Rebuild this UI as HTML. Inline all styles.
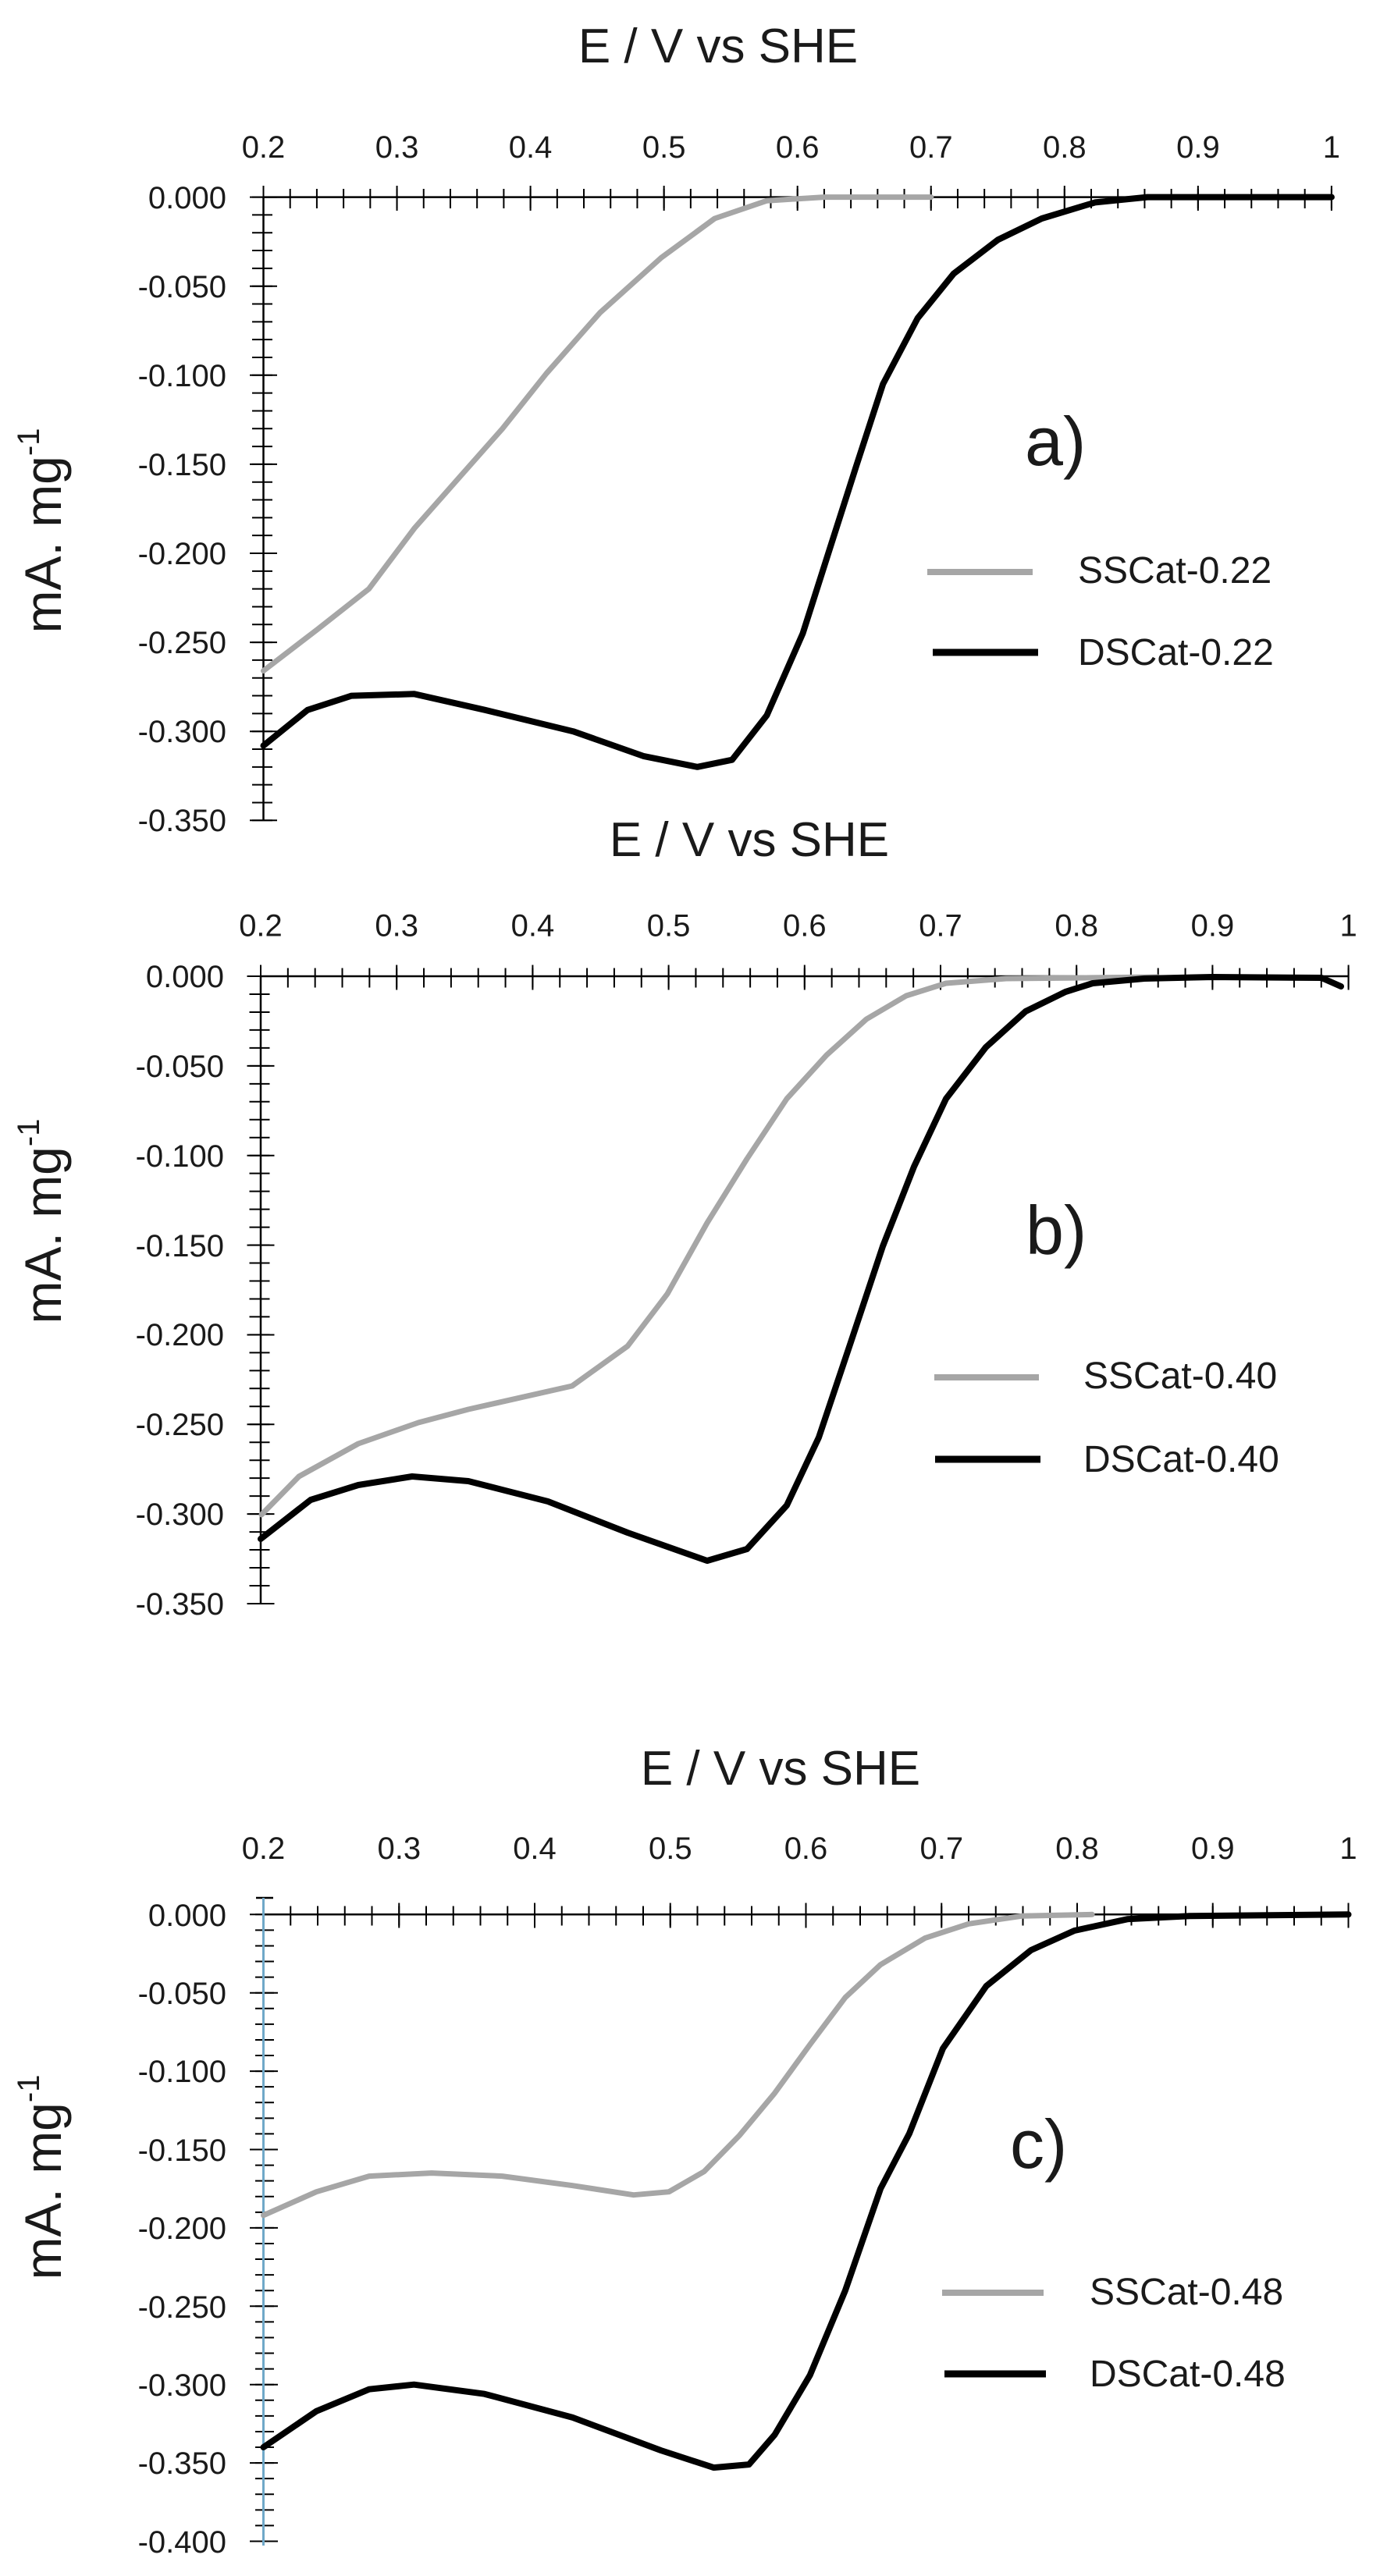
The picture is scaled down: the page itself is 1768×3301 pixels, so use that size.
<!DOCTYPE html>
<html><head><meta charset="utf-8"><style>
html,body{margin:0;padding:0;background:#fff}
svg{display:block}
text{font-family:"Liberation Sans",sans-serif;fill:#1a1a1a}
.t{font-size:40px}
.ttl{font-size:62px;text-anchor:middle}
.lg{font-size:48px}
.pl{font-size:88px}
</style></head><body>
<svg width="1768" height="3301" viewBox="0 0 1768 3301" xmlns="http://www.w3.org/2000/svg">
<rect width="1768" height="3301" fill="#fff"/>

<!-- ===== Panel a ===== -->
<text class="ttl" x="920" y="80">E / V vs SHE</text>
<g class="t" text-anchor="middle">
<text x="337.5" y="202">0.2</text><text x="508.6" y="202">0.3</text><text x="679.6" y="202">0.4</text><text x="850.7" y="202">0.5</text><text x="1021.7" y="202">0.6</text><text x="1192.8" y="202">0.7</text><text x="1363.8" y="202">0.8</text><text x="1534.9" y="202">0.9</text><text x="1705.9" y="202">1</text>
</g>
<g class="t" text-anchor="end">
<text x="290" y="267">0.000</text><text x="290" y="381">-0.050</text><text x="290" y="495">-0.100</text><text x="290" y="609">-0.150</text><text x="290" y="723">-0.200</text><text x="290" y="837">-0.250</text><text x="290" y="951">-0.300</text><text x="290" y="1065">-0.350</text>
</g>
<g stroke="#000" fill="none">
<line x1="337.5" y1="252.6" x2="1706" y2="252.6" stroke-width="2.5"/>
<line x1="337.5" y1="252.6" x2="337.5" y2="1051" stroke-width="2.5"/>
<line x1="336.5" y1="254.5" x2="1710" y2="254.5" stroke-width="25" stroke-dasharray="2 32.21"/>
<line x1="336.5" y1="254" x2="1710" y2="254" stroke-width="32" stroke-dasharray="2 169.05"/>
<line x1="336" y1="251.6" x2="336" y2="1053" stroke-width="26" stroke-dasharray="2 20.82"/>
<line x1="337.5" y1="251.6" x2="337.5" y2="1053" stroke-width="35" stroke-dasharray="2 112.1"/>
</g>
<polyline fill="none" stroke="#a6a6a6" stroke-width="7" stroke-linejoin="round" stroke-linecap="round" points="337.5,859.6 405.9,807.1 472.6,754.6 530.8,677.1 587.2,613.2 643.7,549.3 700.1,478.5 768.5,400.9 847.2,330.2 915.6,280 982.4,257.2 1055.9,252.6 1192.8,252.6"/>
<polyline fill="none" stroke="#000" stroke-width="8" stroke-linejoin="round" stroke-linecap="round" points="337.5,955.5 394,909.8 450.4,891.6 530.8,889.3 621.4,909.8 734.3,937.2 825,969.1 893.4,982.8 937.9,973.7 982.4,916.7 1028.5,811.7 1062.7,704.4 1097,597.2 1131.2,492.2 1175.6,407.8 1221.8,350.7 1278.3,307.4 1334.7,280 1402.9,259.4 1469.9,252.6 1705.9,252.6"/>
<text class="pl" x="1313" y="596">a)</text>
<line x1="1188" y1="733" x2="1323" y2="733" stroke="#a6a6a6" stroke-width="8"/>
<line x1="1195" y1="836" x2="1330" y2="836" stroke="#000" stroke-width="9"/>
<text class="lg" x="1381" y="747">SSCat-0.22</text>
<text class="lg" x="1381" y="852">DSCat-0.22</text>
<text transform="translate(78,680) rotate(-90)" text-anchor="middle" style="font-size:66px">mA. mg<tspan dy="-28" style="font-size:40px">-1</tspan></text>

<!-- ===== Panel b ===== -->
<text class="ttl" x="960" y="1097">E / V vs SHE</text>
<g class="t" text-anchor="middle">
<text x="334" y="1199.5">0.2</text><text x="508.2" y="1199.5">0.3</text><text x="682.4" y="1199.5">0.4</text><text x="856.6" y="1199.5">0.5</text><text x="1030.8" y="1199.5">0.6</text><text x="1205" y="1199.5">0.7</text><text x="1379.2" y="1199.5">0.8</text><text x="1553.4" y="1199.5">0.9</text><text x="1727.6" y="1199.5">1</text>
</g>
<g class="t" text-anchor="end">
<text x="287" y="1265">0.000</text><text x="287" y="1380">-0.050</text><text x="287" y="1495">-0.100</text><text x="287" y="1610">-0.150</text><text x="287" y="1724">-0.200</text><text x="287" y="1839">-0.250</text><text x="287" y="1954">-0.300</text><text x="287" y="2069">-0.350</text>
</g>
<g stroke="#000" fill="none">
<line x1="334" y1="1251" x2="1728" y2="1251" stroke-width="2.5"/>
<line x1="334" y1="1251" x2="334" y2="2056" stroke-width="2.5"/>
<line x1="333" y1="1253" x2="1731" y2="1253" stroke-width="25" stroke-dasharray="2 32.84"/>
<line x1="333" y1="1252.5" x2="1731" y2="1252.5" stroke-width="32" stroke-dasharray="2 172.2"/>
<line x1="332.5" y1="1250" x2="332.5" y2="2058" stroke-width="26" stroke-dasharray="2 20.97"/>
<line x1="334" y1="1250" x2="334" y2="2058" stroke-width="35" stroke-dasharray="2 112.86"/>
</g>
<polyline fill="none" stroke="#a6a6a6" stroke-width="7" stroke-linejoin="round" stroke-linecap="round" points="335,1941 383,1892 459,1850 536,1823 600,1806 733,1776 804,1725 855,1658 906,1567 957,1485 1008,1408 1059,1352 1110,1306 1161,1276 1212,1260 1289,1254 1391,1253 1483,1252"/>
<polyline fill="none" stroke="#000" stroke-width="8" stroke-linejoin="round" stroke-linecap="round" points="334,1972 398,1922 459,1903 528,1892 600,1898 702,1924 804,1964 906,2000 957,1985 1008,1929 1049,1842 1090,1720 1131,1597 1171,1495 1212,1408 1263,1342 1314,1296 1365,1271 1400,1260 1466,1254 1553,1252 1693,1253 1718,1264"/>
<text class="pl" x="1314" y="1607">b)</text>
<line x1="1197" y1="1765" x2="1331" y2="1765" stroke="#a6a6a6" stroke-width="8"/>
<line x1="1198" y1="1870" x2="1333" y2="1870" stroke="#000" stroke-width="9"/>
<text class="lg" x="1388" y="1779">SSCat-0.40</text>
<text class="lg" x="1388" y="1886">DSCat-0.40</text>
<text transform="translate(78,1565) rotate(-90)" text-anchor="middle" style="font-size:66px">mA. mg<tspan dy="-28" style="font-size:40px">-1</tspan></text>

<!-- ===== Panel c ===== -->
<text class="ttl" x="1000" y="2287">E / V vs SHE</text>
<g class="t" text-anchor="middle">
<text x="337.5" y="2382">0.2</text><text x="511.3" y="2382">0.3</text><text x="685" y="2382">0.4</text><text x="858.8" y="2382">0.5</text><text x="1032.5" y="2382">0.6</text><text x="1206.3" y="2382">0.7</text><text x="1380" y="2382">0.8</text><text x="1553.8" y="2382">0.9</text><text x="1727.5" y="2382">1</text>
</g>
<g class="t" text-anchor="end">
<text x="290" y="2468">0.000</text><text x="290" y="2568">-0.050</text><text x="290" y="2668">-0.100</text><text x="290" y="2769">-0.150</text><text x="290" y="2869">-0.200</text><text x="290" y="2970">-0.250</text><text x="290" y="3070">-0.300</text><text x="290" y="3170">-0.350</text><text x="290" y="3271">-0.400</text>
</g>
<g stroke="#000" fill="none">
<line x1="337.5" y1="2453.3" x2="1728" y2="2453.3" stroke-width="2.5"/>
<line x1="336.5" y1="2455" x2="1731" y2="2455" stroke-width="25" stroke-dasharray="2 32.75"/>
<line x1="336.5" y1="2454.5" x2="1731" y2="2454.5" stroke-width="32" stroke-dasharray="2 171.75"/>
<line x1="339" y1="2452.3" x2="339" y2="3258" stroke-width="24" stroke-dasharray="2 18.08"/>
<line x1="338" y1="2452.3" x2="338" y2="3258" stroke-width="36" stroke-dasharray="2 98.4"/>
<line x1="328" y1="2432" x2="350" y2="2432" stroke-width="2.5"/>
</g>
<line x1="337.5" y1="2432" x2="337.5" y2="3262" stroke="#6fa8c8" stroke-width="3"/>
<polyline fill="none" stroke="#a6a6a6" stroke-width="7" stroke-linejoin="round" stroke-linecap="round" points="337.5,2838.8 405.3,2808.7 473,2788.6 552.9,2784.6 643.3,2788.6 733.6,2800.7 811.8,2812.7 857,2808.7 902.2,2782.6 947.4,2736.4 992.5,2682.2 1037.7,2620 1082.9,2559.7 1128.1,2517.6 1185.4,2483.4 1241,2465.3 1308.8,2455.3 1399.1,2453.3"/>
<polyline fill="none" stroke="#000" stroke-width="8" stroke-linejoin="round" stroke-linecap="round" points="337.5,3136 405.3,3089.8 473,3061.7 530.4,3055.7 620.7,3067.7 733.6,3097.9 846.6,3140 914.3,3162.1 959.5,3158.1 992.5,3120 1037.7,3043.7 1082.9,2935.2 1128.1,2804.7 1165,2734 1208,2625 1263.6,2545 1320.9,2499 1376.5,2474 1444.3,2459.3 1524.2,2455.3 1727.5,2453.3"/>
<text class="pl" x="1294" y="2778">c)</text>
<line x1="1207" y1="2938" x2="1337" y2="2938" stroke="#a6a6a6" stroke-width="8"/>
<line x1="1210" y1="3042" x2="1340" y2="3042" stroke="#000" stroke-width="9"/>
<text class="lg" x="1396" y="2953">SSCat-0.48</text>
<text class="lg" x="1396" y="3058">DSCat-0.48</text>
<text transform="translate(78,2790) rotate(-90)" text-anchor="middle" style="font-size:66px">mA. mg<tspan dy="-28" style="font-size:40px">-1</tspan></text>
</svg>
</body></html>
